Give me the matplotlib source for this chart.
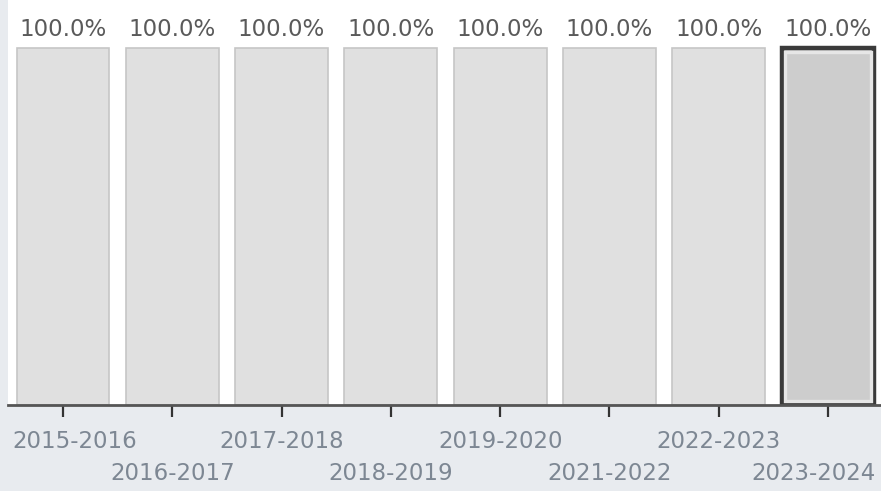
import matplotlib
matplotlib.use("Agg")
import matplotlib.pyplot as plt

categories = ["2015-2016", "2016-2017", "2017-2018", "2018-2019",
              "2019-2020", "2021-2022", "2022-2023", "2023-2024"]
values = [100.0, 100.0, 100.0, 100.0, 100.0, 100.0, 100.0, 100.0]
highlight = "2023-2024"

BG = "#e8ebef"
FILL = "#e0e0e0"
EDGE = "#c6c6c6"
HFILL = "#cdcdcd"
HEDGE = "#3a3a3a"
TICKC = "#7d8793"
LABC = "#5a5a5a"

plt.rcParams['font.family'] = ['DejaVu Sans']

fig = plt.figure(figsize=(8.81, 4.91), dpi=100)
fig.patch.set_facecolor(BG)
ax = fig.add_axes([8/881, 1 - 405/491, 873/881, 405/491])
ax.set_facecolor("white")

x = list(range(len(categories)))
w = 0.85
for i, (c, v) in enumerate(zip(categories, values)):
    if c == highlight:
        ax.bar(i, v, width=w, color=HFILL, edgecolor=HEDGE, linewidth=3.2, zorder=2)
        ax.bar(i, v - 2.2, bottom=1.1, width=w - 0.07, color="none",
               edgecolor="#e6e6e6", linewidth=2.4, zorder=3)
    else:
        ax.bar(i, v, width=w, color=FILL, edgecolor=EDGE, linewidth=1.2, zorder=2)
    ax.annotate(f"{v:.1f}%", (i, v), xytext=(0, 7), textcoords="offset pixels",
                ha="center", va="bottom", fontsize=16.5, color=LABC)

ax.set_xlim(-0.503, 7.485)
ax.set_ylim(0, 113.5)
ax.set_yticks([])
ax.set_xticks(x)
ax.set_xticklabels([])
ax.tick_params(axis="x", length=8.5, width=1.6, color="#333333", direction="out")
for s in ["top", "right", "left"]:
    ax.spines[s].set_visible(False)
ax.spines["bottom"].set_color("#555555")
ax.spines["bottom"].set_linewidth(2)

n = len(categories)
for i, c in enumerate(categories):
    dy = -36 if i % 2 == 0 else -68
    if i == n - 1:
        ax.annotate(c, (1, 0), xycoords="axes fraction", xytext=(-5, dy),
                    textcoords="offset pixels", ha="right", va="center",
                    fontsize=16.5, color=TICKC)
    elif i == 0:
        ax.annotate(c, (0, 0), xycoords="axes fraction", xytext=(4, dy),
                    textcoords="offset pixels", ha="left", va="center",
                    fontsize=16.5, color=TICKC)
    else:
        ax.annotate(c, (i, 0), xycoords=("data", "axes fraction"), xytext=(0, dy),
                    textcoords="offset pixels", ha="center", va="center",
                    fontsize=16.5, color=TICKC)

fig.savefig("out.png", dpi=100, facecolor=BG)
